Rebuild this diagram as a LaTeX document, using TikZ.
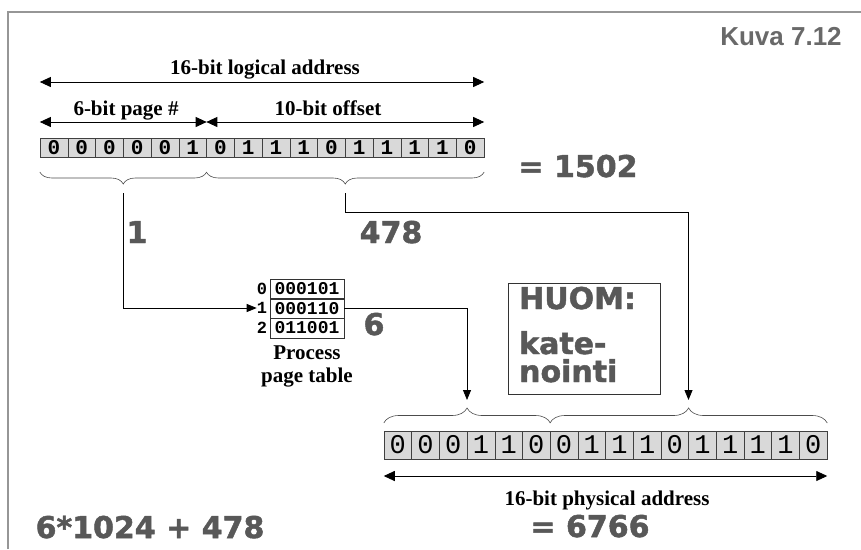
\documentclass[tikz,border=0pt]{standalone}
\usepackage{fontspec}
\setmainfont{Liberation Serif}
\setmonofont{Liberation Mono}
\newfontfamily\kuvafont{Liberation Sans}
\newfontfamily\heavyfont{DejaVu Sans}[BoldFeatures={FakeBold=1.6}]
\usetikzlibrary{arrows.meta,decorations.pathreplacing}
\definecolor{cTxt}{RGB}{88,88,88}
\definecolor{cCell}{RGB}{217,217,217}
\definecolor{cFrame}{RGB}{150,150,150}

\begin{document}
\begin{tikzpicture}[x=1pt,y=-1pt,
  lbit/.style={draw=black!75,fill=cCell,minimum width=27.75pt,minimum height=18.5pt,inner sep=0pt,font=\fontsize{21}{21}\selectfont\ttfamily\bfseries},
  pbit/.style={draw=black!75,fill=cCell,minimum width=27.69pt,minimum height=28pt,inner sep=0pt,font=\fontsize{27}{27}\selectfont\ttfamily},
  ptrow/.style={draw=black!80,minimum width=74pt,minimum height=19.7pt,inner sep=0pt,font=\fontsize{18}{18}\selectfont\ttfamily\bfseries},
  idx/.style={inner sep=0pt,font=\fontsize{17}{17}\selectfont\ttfamily\bfseries},
  lbl/.style={inner sep=0pt,font=\fontsize{21}{23}\selectfont\bfseries},
  big/.style={inner sep=0pt,text=cTxt,font=\fontsize{30}{30}\selectfont\heavyfont\bfseries},
  arr/.style={-{Triangle[length=10pt,width=8pt]},line width=0.8pt},
  darr/.style={{Triangle[length=11pt,width=10pt]}-{Triangle[length=11pt,width=10pt]},line width=0.9pt},
  tbrc/.style={decorate,decoration={brace,mirror,amplitude=12pt},line width=0.6pt,draw=black!70},
  pbrc/.style={decorate,decoration={brace,amplitude=15pt},line width=0.6pt,draw=black!70}]
\useasboundingbox (0,0) rectangle (861,549);
% frame and title
\draw[cFrame,line width=1.4pt] (8,549) -- (8,12) -- (861,12);
\node[anchor=base,inner sep=0pt,text=cTxt!90,font=\fontsize{26}{26}\selectfont\kuvafont\bfseries] (kuva) at (781,45) {Kuva 7.12};
% logical address
\node[lbl,anchor=base] (lname) at (265,74) {16-bit logical address};
\node[lbl,anchor=base] (pname) at (126,115) {6-bit page \#};
\node[lbl,anchor=base] (oname) at (328,115) {10-bit offset};
\node[lbit] (l1) at (53.9,147.5) {0};
\node[lbit] (l2) at (81.6,147.5) {0};
\node[lbit] (l3) at (109.4,147.5) {0};
\node[lbit] (l4) at (137.1,147.5) {0};
\node[lbit] (l5) at (164.9,147.5) {0};
\node[lbit] (l6) at (192.6,147.5) {1};
\node[lbit] (l7) at (220.4,147.5) {0};
\node[lbit] (l8) at (248.1,147.5) {1};
\node[lbit] (l9) at (275.9,147.5) {1};
\node[lbit] (l10) at (303.6,147.5) {1};
\node[lbit] (l11) at (331.4,147.5) {0};
\node[lbit] (l12) at (359.1,147.5) {1};
\node[lbit] (l13) at (386.9,147.5) {1};
\node[lbit] (l14) at (414.6,147.5) {1};
\node[lbit] (l15) at (442.4,147.5) {1};
\node[lbit] (l16) at (470.1,147.5) {0};
\draw[darr] (l1.west |- 0,82) -- (l16.east |- 0,82);
\draw[darr] (l1.west |- 0,122) -- (l6.east |- 0,122);
\draw[darr] (l7.west |- 0,122) -- (l16.east |- 0,122);
\draw[tbrc] (l1.west |- 0,172) -- (l6.east |- 0,172);
\draw[tbrc] (l7.west |- 0,172) -- (l16.east |- 0,172);
\coordinate (tb1) at (123.5,184);
\coordinate (tb2) at (345.5,184);
\node[big,anchor=base] (dec1) at (578,177) {= 1502};
\node[big,anchor=base] (one) at (137,243) {1};
\node[big,anchor=base] (ofs) at (391,243) {478};
% page table
\node[ptrow] (pt0) at (307,289) {000101};
\node[ptrow] (pt1) at (307,308.5) {000110};
\node[ptrow] (pt2) at (307,328) {011001};
\node[idx] (i0) at (262,289) {0};
\node[idx] (i1) at (262,308) {1};
\node[idx] (i2) at (262,328) {2};
\node[lbl,align=center,anchor=north] (ptname) at (307,346) {Process\\page table};
\node[big,anchor=base] (six) at (374,335) {6};
% note
\node[draw=black!80,line width=0.8pt,minimum width=152pt,minimum height=111pt] (huom) at (584,338.5) {};
\node[big,anchor=base west] (huom1) at (519,309) {HUOM:};
\node[big,anchor=north west,align=left,font=\fontsize{30}{28}\selectfont\heavyfont\bfseries] (huom2) at (519,331) {kate-\\nointi};
% physical address
\node[pbit] (p1) at (397.8,445) {0};
\node[pbit] (p2) at (425.5,445) {0};
\node[pbit] (p3) at (453.2,445) {0};
\node[pbit] (p4) at (480.9,445) {1};
\node[pbit] (p5) at (508.6,445) {1};
\node[pbit] (p6) at (536.3,445) {0};
\node[pbit] (p7) at (564.0,445) {0};
\node[pbit] (p8) at (591.7,445) {1};
\node[pbit] (p9) at (619.4,445) {1};
\node[pbit] (p10) at (647.1,445) {1};
\node[pbit] (p11) at (674.8,445) {0};
\node[pbit] (p12) at (702.5,445) {1};
\node[pbit] (p13) at (730.1,445) {1};
\node[pbit] (p14) at (757.8,445) {1};
\node[pbit] (p15) at (785.5,445) {1};
\node[pbit] (p16) at (813.2,445) {0};
\draw[pbrc] (p1.west |- 0,423) -- (p6.east |- 0,423);
\draw[pbrc] (p7.west |- 0,423) -- (p16.east |- 0,423);
\coordinate (pb1) at (467,400);
\coordinate (pb2) at (688.5,400);
\draw[darr] (p1.west |- 0,476) -- (p16.east |- 0,476);
\node[lbl,anchor=base] (fname) at (607,505) {16-bit physical address};
\node[big,anchor=base] (dec2) at (590,537) {= 6766};
\node[big,anchor=base] (calc) at (150,538) {6*1024 + 478};
% connectors
\draw[arr,shorten <=9pt] (tb1) |- (i1.west);
\draw[arr,shorten <=9pt] (tb2) -- ++(0,28) -| (pb2);
\draw[arr] (pt1.east) -| (pb1);
\end{tikzpicture}
\end{document}
